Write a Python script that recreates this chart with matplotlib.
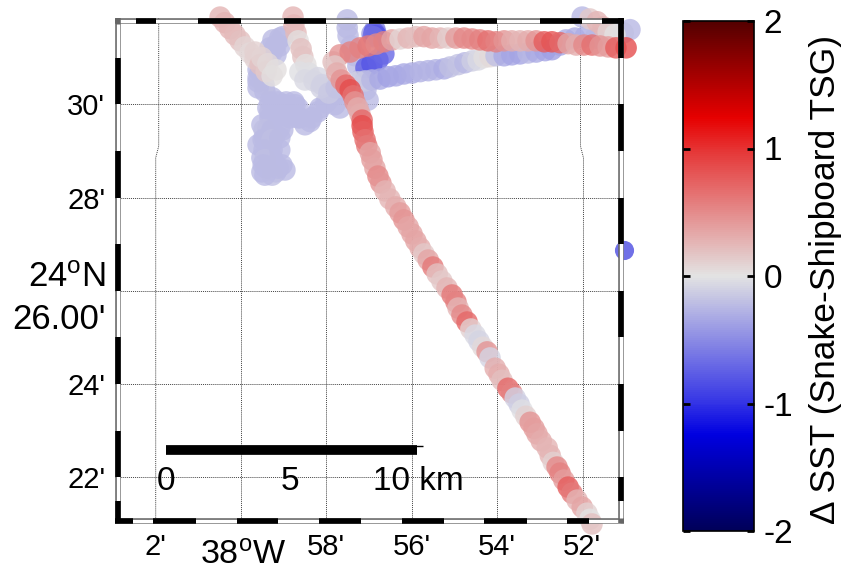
import matplotlib
matplotlib.use('Agg')
import matplotlib.pyplot as plt
from matplotlib.cm import ScalarMappable
from matplotlib.colors import LinearSegmentedColormap, Normalize

plt.rcParams['font.family'] = ['Liberation Sans', 'DejaVu Sans']
plt.rcParams['mathtext.fontset'] = 'custom'
plt.rcParams['mathtext.rm'] = 'Liberation Sans'
plt.rcParams['mathtext.default'] = 'rm'

# longitude is minutes east of 38W, latitude is minutes north of 24N
a_lon = [-0.49, -0.38, -0.26, -0.14, -0.02, 0.09, 0.21, 0.33, 0.33, 0.45, 0.49, 0.59, 0.63, 0.82, 0.73]
a_lat = [31.87, 31.75, 31.62, 31.49, 31.36, 31.23, 31.10, 30.97, 31.12, 30.85, 31.00, 30.70, 30.87, 30.74, 30.61]
a_sst = [0.25, 0.25, 0.25, 0.22, 0.2, 0.08, 0.05, 0.1, 0.1, 0.2, 0.08, 0.15, 0.05, 0.02, 0.02]

b_lon = [0.91, 0.82, 0.73, 0.56, 0.45, 0.40, 0.56, 0.73, 0.63, 0.68, 0.63, 0.56, 0.68, 0.49, 0.59, 0.49, 0.82, 0.96,
         0.73, 0.98, 1.03, 0.87, 1.15, 1.38, 1.62, 1.81, 1.99, 2.20, 2.32, 1.27, 0.40, 0.80, 0.49]
b_lat = [31.42, 31.27, 31.12, 30.91, 30.69, 30.48, 30.27, 30.14, 29.92, 29.71, 29.49, 29.28, 29.06, 28.85, 28.63,
         28.55, 28.55, 28.70, 29.02, 29.45, 29.99, 29.88, 29.84, 29.71, 29.63, 29.84, 30.03, 30.20, 29.92, 29.99,
         29.13, 29.34, 29.56]
b_sst = [-0.22, -0.22, -0.22, -0.22, -0.22, -0.22, -0.22, -0.22, -0.22, -0.22, -0.22, -0.22, -0.22, -0.22, -0.22,
         -0.22, -0.22, -0.22, -0.22, -0.22, -0.22, -0.22, -0.22, -0.22, -0.22, -0.22, -0.22, -0.22, -0.22, -0.22,
         -0.22, -0.22, -0.22]

# more passes through the lavender patch
k_lon = [0.98, 0.75, 0.91, 0.68, 0.82, 0.63, 0.40, 0.56, 0.40, 0.54, 0.40, 0.68, 0.87, 1.06, 1.24, 1.34, 0.68, 0.91,
         1.15, 1.34, 1.50, 1.66, 1.85, 2.04, 2.20, 0.54, 0.73, 0.91, 0.52, 0.73, 0.91, 0.54, 0.73, 0.56, 0.91, 0.80,
         1.03, 0.73, 0.56, 0.52, 0.87]
k_lat = [31.45, 31.38, 31.25, 31.21, 31.06, 30.95, 30.74, 30.69, 30.57, 30.42, 30.35, 30.05, 30.05, 30.05, 30.05,
         29.92, 29.84, 29.77, 29.71, 29.71, 29.56, 29.71, 29.92, 30.09, 29.99, 29.45, 29.45, 29.49, 29.24, 29.24,
         29.28, 29.02, 28.85, 28.81, 29.02, 28.70, 28.59, 28.48, 28.48, 28.70, 28.63]
k_sst = [-0.22, -0.23, -0.22, -0.23, -0.22, -0.23, -0.22, -0.2, -0.22, -0.2, -0.22, -0.23, -0.22, -0.23, -0.22, -0.23,
         -0.22, -0.23, -0.22, -0.23, -0.22, -0.23, -0.22, -0.23, -0.22, -0.2, -0.22, -0.23, -0.22, -0.2, -0.22, -0.23,
         -0.22, -0.2, -0.22, -0.23, -0.22, -0.2, -0.22, -0.23, -0.22]

c_lon = [1.22, 1.24, 1.29, 1.34, 1.41, 1.45, 1.52, 1.38, 1.59, 1.50, 1.71, 1.81, 1.90, 1.88, 2.06, 2.23]
c_lat = [31.87, 31.70, 31.53, 31.36, 31.19, 31.02, 30.85, 30.69, 30.67, 30.52, 30.50, 30.57, 30.42, 30.35, 30.24, 30.35]
c_sst = [0.25, 0.25, 0.22, 0.03, 0.2, 0.18, 0.03, -0.02, -0.03, -0.05, -0.07, -0.07, -0.1, -0.1, -0.15, -0.18]

d_lon = [2.49, 2.49, 2.51, 2.58, 2.67, 2.74, 2.84, 2.93, 2.98, 2.74]
d_lat = [31.81, 31.64, 31.47, 31.25, 31.04, 30.82, 30.57, 30.31, 30.09, 29.92]
d_sst = [-0.22, -0.22, -0.22, -0.22, -0.22, -0.22, -0.22, -0.22, -0.22, -0.25]

# the darker blue clump near the top
e_lon = [3.07, 3.17, 3.14, 3.12, 3.17, 3.10, 2.93, 3.07, 3.21, 3.35]
e_lat = [31.51, 31.51, 31.60, 31.53, 31.47, 31.45, 30.78, 30.87, 30.95, 31.08]
e_sst = [-0.4, -0.45, -0.55, -0.75, -0.8, -0.65, -0.75, -0.8, -0.75, -0.7]

f_lon = [2.74, 2.91, 3.07, 3.26, 3.45, 3.63, 3.82, 4.01, 4.20, 4.39, 4.57, 4.76, 4.90, 5.09, 5.25, 5.42, 5.56, 5.70,
         5.84, 5.98, 6.17, 6.35, 6.54, 6.73, 6.92, 7.13, 7.29, 7.48, 7.62, 7.83, 8.07, 8.30]
f_lat = [30.48, 30.50, 30.52, 30.54, 30.59, 30.61, 30.65, 30.67, 30.70, 30.72, 30.74, 30.76, 30.80, 30.85, 30.89,
         30.93, 30.95, 31.00, 31.02, 31.04, 31.04, 31.06, 31.08, 31.10, 31.12, 31.15, 31.17, 31.27, 31.38, 31.42,
         31.45, 31.42]
f_sst = [-0.1, -0.15, -0.25, -0.32, -0.36, -0.34, -0.33, -0.3, -0.28, -0.27, -0.27, -0.3, -0.2, -0.18, -0.24, -0.12,
         -0.05, 0.03, 0.05, -0.2, -0.32, -0.35, -0.35, -0.25, -0.32, -0.35, -0.38, -0.35, -0.3, -0.3, -0.3, -0.25]

g_lon = [9.12, 8.96, 8.00, 8.18, 8.35, 8.49, 8.61, 8.77]
g_lat = [31.60, 31.53, 31.87, 31.83, 31.77, 31.66, 31.55, 31.49]
g_sst = [-0.25, -0.2, -0.25, 0.15, 0.25, 0.25, 0.1, 0.0]

h_lon = [2.16, 2.32, 2.56, 2.79, 2.98, 3.17, 3.35, 3.54, 3.73, 3.92, 4.10, 4.29, 4.48, 4.67, 4.85, 5.04, 5.23, 5.42,
         5.60, 5.79, 5.98, 6.17, 6.35, 6.54, 6.73, 6.92, 7.11, 7.29, 7.48, 7.67, 7.86, 8.04, 8.23, 8.42, 8.61, 8.79,
         9.03]
h_lat = [30.91, 31.06, 31.12, 31.21, 31.25, 31.29, 31.34, 31.38, 31.40, 31.42, 31.45, 31.45, 31.42, 31.42, 31.42,
         31.42, 31.42, 31.40, 31.38, 31.36, 31.34, 31.36, 31.36, 31.36, 31.36, 31.36, 31.34, 31.34, 31.32, 31.30,
         31.27, 31.27, 31.27, 31.25, 31.23, 31.21, 31.21]
h_sst = [0.2, 0.45, 0.55, 0.55, 0.6, 0.5, 0.55, 0.35, 0.08, 0.25, 0.2, 0.35, 0.35, 0.25, 0.12, 0.4, 0.5, 0.5, 0.55,
         0.65, 0.55, 0.45, 0.3, 0.25, 0.3, 0.45, 0.75, 0.8, 0.7, 0.35, 0.3, 0.5, 0.65, 0.45, 0.4, 0.75, 0.85]

# the long diagonal leg down to the bottom right
i_lon = [2.20, 2.25, 2.35, 2.46, 2.56, 2.63, 2.67, 2.74, 2.79, 2.84, 2.84, 2.86, 2.91, 2.95, 3.03, 3.07, 3.14, 3.21,
         3.28, 3.38, 3.49, 3.63, 3.73, 3.82, 3.92, 4.01, 4.10, 4.20, 4.29, 4.39, 4.50, 4.60, 4.71, 4.83, 4.95, 5.04,
         5.09, 5.18, 5.30, 5.39, 5.49, 5.58, 5.67, 5.77, 5.84, 5.96, 6.05, 6.12, 6.26, 6.35, 6.43, 6.52, 6.59, 6.68,
         6.78, 6.87, 6.94, 7.04, 7.18, 7.25, 7.32, 7.41, 7.48, 7.57, 7.67, 7.76, 7.88, 8.00, 8.11, 8.18, 8.23]
i_lat = [30.82, 30.67, 30.52, 30.41, 30.31, 30.18, 30.05, 29.92, 29.79, 29.66, 29.54, 29.41, 29.24, 29.11, 28.96,
         28.81, 28.63, 28.46, 28.31, 28.14, 27.97, 27.80, 27.67, 27.52, 27.37, 27.22, 27.07, 26.92, 26.79, 26.66,
         26.51, 26.36, 26.21, 26.06, 25.91, 25.76, 25.63, 25.48, 25.33, 25.18, 25.05, 24.92, 24.79, 24.69, 24.56,
         24.34, 24.21, 24.08, 23.91, 23.81, 23.70, 23.57, 23.44, 23.31, 23.18, 23.05, 22.93, 22.78, 22.63, 22.47,
         22.32, 22.22, 22.09, 21.94, 21.79, 21.66, 21.51, 21.36, 21.23, 21.10, 21.00]
i_sst = [0.15, 0.3, 0.45, 0.7, 0.85, 0.65, 0.45, 0.3, 0.3, 0.7, 0.85, 0.75, 0.65, 0.6, 0.35, 0.4, 0.35, 0.5, 0.45, 0.25,
         0.25, 0.3, 0.4, 0.45, 0.35, 0.35, 0.35, 0.3, 0.15, 0.35, 0.6, 0.2, 0.15, 0.25, 0.6, 0.55, 0.25, 0.5, 0.7, 0.1,
         -0.05, -0.08, 0.05, 0.45, -0.08, 0.3, 0.3, 0.2, 0.7, 0.55, -0.1, -0.12, -0.03, 0.1, 0.45, 0.4, 0.35, 0.3, 0.25,
         0.25, 0.1, 0.5, 0.55, 0.4, 0.75, 0.6, 0.25, 0.35, 0.1, 0.0, 0.2]

# lone point by the right edge
j_lon = [8.98]
j_lat = [26.87]
j_sst = [-0.75]

tracks = [(b_lon, b_lat, b_sst), (k_lon, k_lat, k_sst), (d_lon, d_lat, d_sst), (e_lon, e_lat, e_sst),
          (f_lon, f_lat, f_sst), (g_lon, g_lat, g_sst), (c_lon, c_lat, c_sst), (a_lon, a_lat, a_sst),
          (h_lon, h_lat, h_sst), (i_lon, i_lat, i_sst)]

lon_ticks = [-2, 2, 4, 6, 8]
lon_labels = ["2'", "58'", "56'", "54'", "52'"]
lat_ticks = [22, 24, 28, 30]
lat_labels = ["22'", "24'", "28'", "30'"]
grid_lon = [0, 2, 4, 6]
grid_lat = [22, 24, 26, 28, 30]

# alternating frame pieces, in minutes
top_black = [(-2.47, -2), (-1, 0), (1, 2), (3, 4), (5, 6), (7, 8), (8.46, 8.98)]
bottom_black = [(-2.95, -2.53), (-2.06, -1.05), (-0.1, 0.87), (1.83, 2.81), (3.77, 4.76), (5.7, 6.7), (7.64, 8.16)]
left_black = [(30, 31), (28, 29), (26, 27), (24, 25), (22, 23), (21.02, 21.5)]
right_black = [(31, 31.85), (29, 30), (27, 28), (25, 26), (23, 24), (21.5, 22)]

cbar_ticks = [-2, -1, 0, 1, 2]

cmap = LinearSegmentedColormap.from_list('dsst', [
    (0.0, (0.0, 0.0, 0.35)), (0.1875, (0.0, 0.0, 0.88)), (0.25, (0.2, 0.2, 0.9)), (0.5, (0.89, 0.89, 0.89)),
    (0.75, (0.9, 0.2, 0.2)), (0.8125, (0.9, 0.0, 0.0)), (1.0, (0.33, 0.0, 0.0))])
norm = Normalize(-2, 2)

fig = plt.figure(figsize=(8.41, 5.73), dpi=100)
ax = fig.add_axes([115 / 841, 1 - 523 / 573, 509 / 841, 505 / 573])
ax.set_xlim(-2.954, 8.98)
ax.set_ylim(21.02, 31.85)
for s in ax.spines.values():
    s.set_visible(False)

# grid, the two outer meridians have a small kink in them
for v in grid_lon:
    ax.plot([v, v], [21.02, 31.85], color='#444444', lw=0.7, ls=(0, (1, 1)), zorder=1)
for v in grid_lat:
    ax.plot([-2.95, 8.98], [v, v], color='#444444', lw=0.7, ls=(0, (1, 1)), zorder=1)
ax.plot([-1.93, -1.93, -2.0, -2.0], [31.85, 29.1, 28.85, 21.02], color='#444444', lw=0.7, ls=(0, (1, 1)), zorder=1)
ax.plot([7.96, 7.96, 8.03, 8.03], [31.85, 29.1, 28.85, 21.02], color='#444444', lw=0.7, ls=(0, (1, 1)), zorder=1)

for lon, lat, sst in tracks:
    ax.scatter(lon, lat, c=sst, s=240, cmap=cmap, norm=norm, alpha=0.8, linewidths=0, zorder=3, clip_on=False)
ax.scatter(j_lon, j_lat, c=j_sst, s=190, cmap=cmap, norm=norm, alpha=0.9, linewidths=0, zorder=3, clip_on=False)

# scale bar
ax.plot([-1.76, 4.13], [22.58, 22.58], color='black', lw=7, solid_capstyle='butt', zorder=4)
ax.plot([-1.76, 4.27], [22.68, 22.68], color='black', lw=1, solid_capstyle='butt', zorder=4)
ax.text(-1.76, 21.9, '0', fontsize=24, ha='center', va='center', zorder=4)
ax.text(1.15, 21.9, '5', fontsize=24, ha='center', va='center', zorder=4)
ax.text(3.1, 21.9, '10 km', fontsize=24, ha='left', va='center', zorder=4)

# black and white map frame
frame_lon = (-2.88, 8.91)
frame_lat = (21.06, 31.79)
for y, pieces in ((frame_lat[1], top_black), (frame_lat[0], bottom_black)):
    ax.plot([-2.95, 8.98], [y, y], color='#666666', lw=4, solid_capstyle='butt', clip_on=False, zorder=5)
    ax.plot([-2.85, 8.88], [y, y], color='white', lw=2.4, solid_capstyle='butt', clip_on=False, zorder=5)
    for p in pieces:
        ax.plot(p, [y, y], color='black', lw=4, solid_capstyle='butt', clip_on=False, zorder=6)
for x, pieces in ((frame_lon[0], left_black), (frame_lon[1], right_black)):
    ax.plot([x, x], [21.02, 31.85], color='#666666', lw=4, solid_capstyle='butt', clip_on=False, zorder=5)
    ax.plot([x, x], [21.13, 31.72], color='white', lw=2.4, solid_capstyle='butt', clip_on=False, zorder=5)
    for p in pieces:
        ax.plot([x, x], p, color='black', lw=4, solid_capstyle='butt', clip_on=False, zorder=6)

ax.set_xticks(lon_ticks)
ax.set_xticklabels(lon_labels, fontsize=21)
ax.set_yticks(lat_ticks)
ax.set_yticklabels(lat_labels, fontsize=21)
ax.tick_params(axis='x', length=0, pad=7)
ax.tick_params(axis='y', length=0, pad=7)
ax.text(0.05, 20.3, '38$^{\\mathrm{o}}$W', fontsize=24.5, ha='center', va='center', clip_on=False)
ax.text(-3.17, 26.29, '24$^{\\mathrm{o}}$N', fontsize=25, ha='right', va='center', clip_on=False)
ax.text(-3.17, 25.38, "26.00'", fontsize=25, ha='right', va='center', clip_on=False)

# colorbar with ticks on both sides
cax = fig.add_axes([683 / 841, 1 - 531 / 573, 71 / 841, 510 / 573])
cb = fig.colorbar(ScalarMappable(norm=norm, cmap=cmap), cax=cax)
cb.set_ticks(cbar_ticks)
cb.set_ticklabels(['-2', '-1', '0', '1', '2'])
cax.tick_params(axis='y', left=True, right=True, direction='in', length=5, width=2, labelsize=24, pad=7)
cb.outline.set_linewidth(1.2)
fig.text(826 / 841, 1 - 279 / 573, '\u0394 SST (Snake-Shipboard TSG)', rotation=90, fontsize=25.5, ha='center', va='center')

fig.savefig('out.png', dpi=100)
